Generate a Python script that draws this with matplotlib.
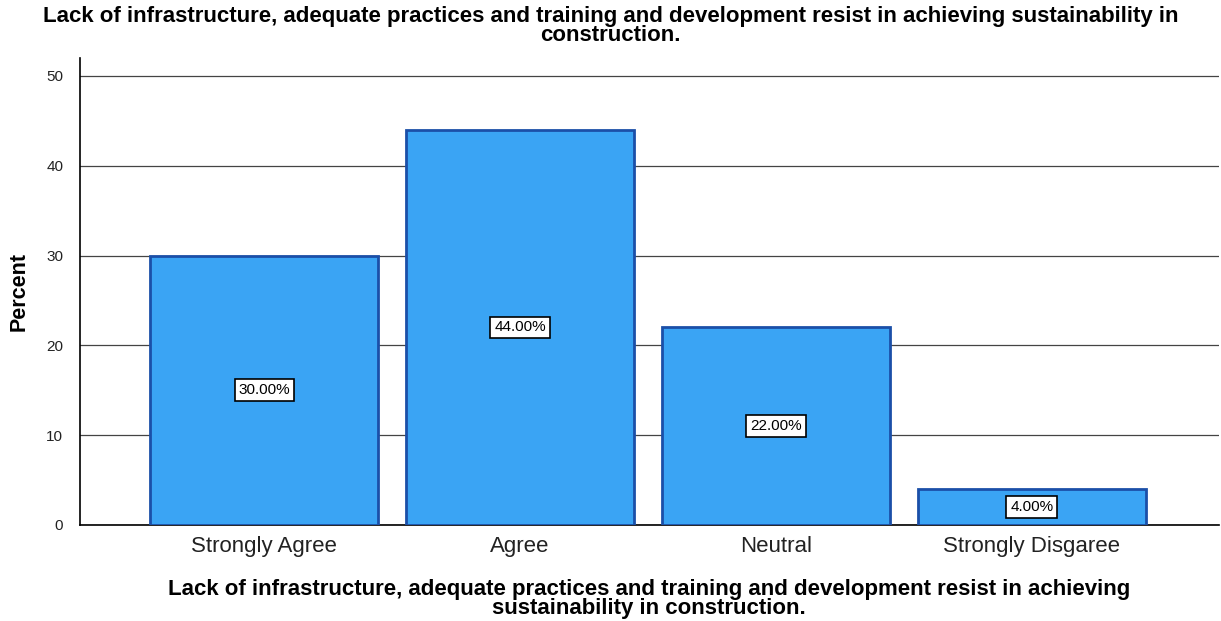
import numpy as np
import matplotlib.pyplot as plt

categories = ["Strongly Agree", "Agree", "Neutral", "Strongly Disgaree"]
percent = [30.0, 44.0, 22.0, 4.0]
yticks = [0, 10, 20, 30, 40, 50]
title = ("Lack of infrastructure, adequate practices and training and development resist in achieving sustainability in\n"
         "construction.")
xlab = ("Lack of infrastructure, adequate practices and training and development resist in achieving\n"
        "sustainability in construction.")

plt.rcParams['font.family'] = ['Liberation Sans', 'DejaVu Sans']

fig = plt.figure(figsize=(12.21, 6.21), dpi=100)
ax = fig.add_axes([0.0655, 0.1546, 0.9325, 0.752])

x = np.arange(len(categories))
ax.bar(x, percent, width=0.89, color="#3aa4f4", edgecolor="#1b4fa8", linewidth=2, zorder=3)

for xi, v in zip(x, percent):
    ax.text(xi, v / 2, "%.2f%%" % v, ha="center", va="center", fontsize=11, zorder=4,
            bbox=dict(boxstyle="square,pad=0.25", facecolor="white", edgecolor="black", linewidth=1.2))

ax.set_xlim(-0.72, 3.73)
ax.set_ylim(0, 52)
ax.set_yticks(yticks)
ax.yaxis.grid(True, color="#444444", linewidth=0.9, zorder=0)
ax.set_axisbelow(True)
ax.set_xticks(x)
ax.set_xticklabels(categories, fontsize=16, color="#222222")
ax.tick_params(axis="x", length=0, pad=8)
ax.tick_params(axis="y", length=0, pad=12, labelsize=11, labelcolor="#222222")

for s in ["top", "right"]:
    ax.spines[s].set_visible(False)
ax.spines["left"].set_linewidth(1.2)
ax.spines["bottom"].set_linewidth(1.2)

ax.set_ylabel("Percent", fontsize=15.5, fontweight="bold", labelpad=12)
ax.set_xlabel(xlab, fontsize=16, fontweight="bold", labelpad=16, linespacing=0.85)
fig.text(0.5, 0.99, title, ha="center", va="top", fontsize=16, fontweight="bold", linespacing=0.85)

fig.savefig("out.png", dpi=100)
